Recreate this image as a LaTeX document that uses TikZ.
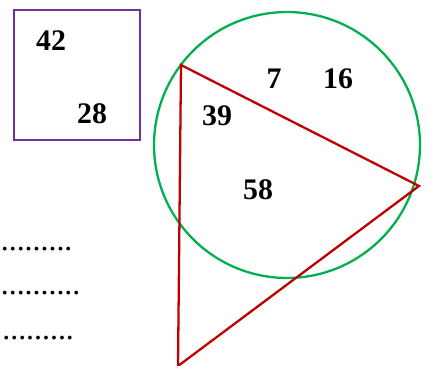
\documentclass[tikz,border=0pt]{standalone}
\usepackage{fontspec}
\setmainfont{Liberation Serif}
\usepackage{tikz}
\usetikzlibrary{positioning}
\definecolor{boxpurple}{RGB}{112,48,160}
\definecolor{ringgreen}{RGB}{0,176,80}
\definecolor{trired}{RGB}{192,0,0}
\tikzset{
  num/.style={font=\fontsize{17}{20}\selectfont\bfseries, inner sep=0pt},
  dotrow/.style={font=\fontsize{18.1}{20}\selectfont, inner sep=0pt, anchor=base west},
  sqbox/.style={draw=boxpurple, line width=1.6pt, minimum width=2.52cm,
                minimum height=2.6cm, inner sep=0pt},
  ring/.style={draw=ringgreen, circle, line width=1.3pt, minimum size=5.32cm,
               inner sep=0pt},
  tri/.style={draw=trired, line width=1.3pt, line join=miter},
}
\begin{document}
\begin{tikzpicture}[x=0.02cm, y=-0.02cm]
\useasboundingbox (0,0) rectangle (429,365);

% square with its two numbers
\node[sqbox] (sq) at (77,75) {};
\node[num] (n42) at (51,41) {42};
\node[num] (n28) at (92,114) {28};

% circle
\node[ring] (ring) at (287,145) {};

% triangle
\coordinate (ta) at (181,65);
\coordinate (tb) at (419,186);
\coordinate (tc) at (178,366);
\draw[tri] (ta) -- (tb) -- (tc) -- cycle;

% numbers in the regions
\node[num] (n7) at (274,79) {7};
\node[num] (n16) at (338,79) {16};
\node[num] (n39) at (217,116) {39};
\node[num] (n58) at (258,190) {58};

% answer lines
\node[dotrow] (row1) at (0.5,250) {.........};
\node[dotrow] (row2) at (0.5,294) {..........};
\node[dotrow] (row3) at (2,339) {.........};

\end{tikzpicture}
\end{document}
